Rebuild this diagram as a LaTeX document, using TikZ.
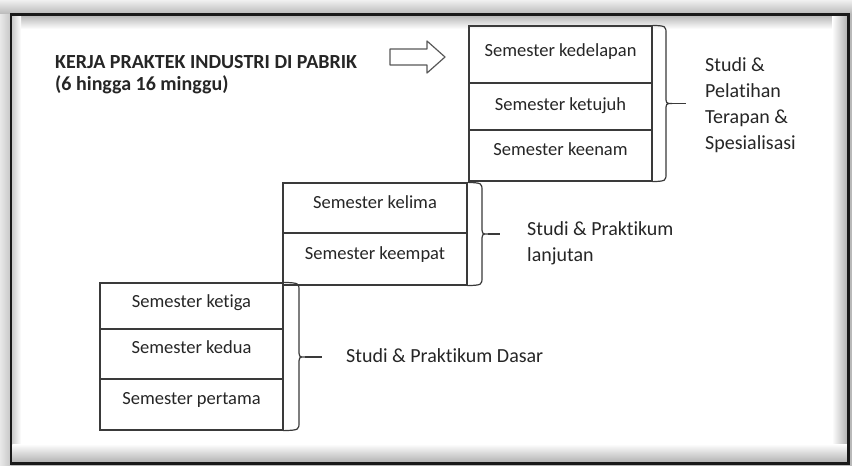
\documentclass[tikz,border=0pt]{standalone}
\usepackage{fontspec}
\setmainfont{Carlito}[Ligatures={NoCommon,NoContextual}]
\definecolor{linec}{HTML}{3A3A3A}
\definecolor{txtc}{HTML}{262626}
\tikzset{
  cell/.style={draw=linec, line width=1.3pt, inner sep=0pt},
  ctext/.style={text=txtc, font=\fontsize{18.5}{22}\selectfont, inner sep=0pt, anchor=base},
  ltext/.style={text=txtc, font=\fontsize{20}{26}\selectfont, inner sep=0pt, anchor=base west},
  ttext/.style={text=txtc, font=\fontsize{20}{24}\selectfont\bfseries, inner sep=0pt, anchor=base west},
  wbrace/.style={draw=linec, line width=1.2pt},
  blockarrow/.style={draw=linec!85, line width=1.2pt, line join=round, fill=white}
}
\begin{document}
\begin{tikzpicture}[x=1pt,y=-1pt]
\useasboundingbox (0,0) rectangle (852,466);
% ---- frame with shadows ----
\fill[gray!55] (0,0) rectangle (852,466);
\shade[top color=gray!12, bottom color=gray!55] (0,0) rectangle (852,14);
\shade[left color=gray!18, right color=gray!45] (0,14) rectangle (11,466);
\fill[white] (11,14.5) rectangle (848.5,463.5);
\shade[top color=gray!55, bottom color=white] (12.25,15.75) rectangle (847.25,29);
\shade[left color=gray!40, right color=white] (12.25,15.75) rectangle (21,462.25);
\shade[left color=white, right color=gray!60] (832,15.75) rectangle (847.25,462.25);
\shade[top color=white, bottom color=gray!60] (12.25,444) rectangle (847.25,462.25);
\draw[black!90, line width=2.5pt] (11,14.5) rectangle (848.5,463.5);

% ---- title ----
\node[ttext] (title1) at (55,68) {KERJA PRAKTEK INDUSTRI DI PABRIK};
\node[ttext] (title2) at (55,90) {(6 hingga 16 minggu)};

% ---- block arrow ----
\draw[blockarrow] (390,49) -- (427,49) -- (427,41) -- (445,57) -- (427,73) -- (427,65) -- (390,65) -- cycle;

% ---- top group ----
\node[cell, minimum width=183pt, minimum height=57pt] (c8) at (560.5,54.5) {};
\node[cell, minimum width=183pt, minimum height=47pt] (c7) at (560.5,106.5) {};
\node[cell, minimum width=183pt, minimum height=51pt] (c6) at (560.5,155.5) {};
\node[ctext] (t8) at (560.5,56) {Semester kedelapan};
\node[ctext] (t7) at (560.5,110) {Semester ketujuh};
\node[ctext] (t6) at (560.5,155) {Semester keenam};
\draw[wbrace] (c8.north east) .. controls (666,26) .. (666,34) -- (666,96)
  .. controls (666,103.5) .. (672,103.5) .. controls (666,103.5) .. (666,111)
  -- (666,173) .. controls (666,181) .. (c6.south east);
\draw[wbrace] (672,103.5) -- (686,103.5);
\node[ltext] (l3a) at (705,71) {Studi \&};
\node[ltext] (l3b) at (705,97) {Pelatihan};
\node[ltext] (l3c) at (705,123) {Terapan \&};
\node[ltext] (l3d) at (705,149) {Spesialisasi};

% ---- middle group ----
\node[cell, minimum width=184pt, minimum height=50pt] (c5) at (375,208) {};
\node[cell, minimum width=184pt, minimum height=52pt] (c4) at (375,259) {};
\node[ctext] (t5) at (375,208) {Semester kelima};
\node[ctext] (t4) at (375,259) {Semester keempat};
\draw[wbrace] (c5.north east) .. controls (482,183) .. (482,191) -- (482,226)
  .. controls (482,234) .. (488,234) .. controls (482,234) .. (482,242)
  -- (482,277) .. controls (482,285) .. (c4.south east);
\draw[wbrace] (488,234) -- (500,234);
\node[ltext] (l2a) at (527,235) {Studi \& Praktikum};
\node[ltext] (l2b) at (527,261) {lanjutan};

% ---- bottom group ----
\node[cell, minimum width=183pt, minimum height=46pt] (c3) at (191.5,306) {};
\node[cell, minimum width=183pt, minimum height=50pt] (c2) at (191.5,354) {};
\node[cell, minimum width=183pt, minimum height=51pt] (c1) at (191.5,404.5) {};
\node[ctext] (t3) at (191.5,307) {Semester ketiga};
\node[ctext] (t2) at (191.5,353) {Semester kedua};
\node[ctext] (t1) at (191.5,404) {Semester pertama};
\draw[wbrace] (c3.north east) .. controls (299,283) .. (299,291) -- (299,349)
  .. controls (299,357) .. (305,357) .. controls (299,357) .. (299,365)
  -- (299,422) .. controls (299,430) .. (c1.south east);
\draw[wbrace] (305,357) -- (322,357);
\node[ltext] (l1) at (346,362) {Studi \& Praktikum Dasar};
\end{tikzpicture}
\end{document}
